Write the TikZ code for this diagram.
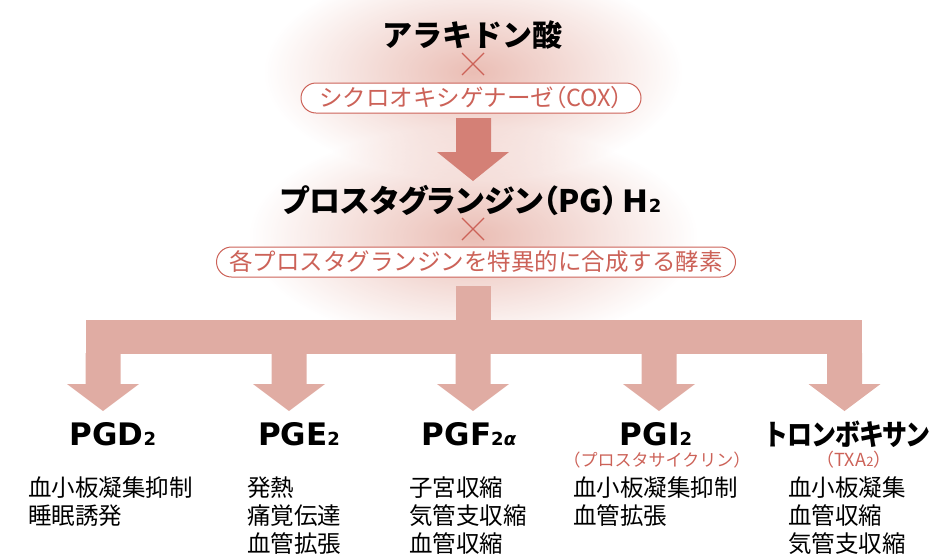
\documentclass[tikz,border=0pt]{standalone}
\usepackage{fontspec}
\setmainfont{Noto Sans CJK JP}
\newfontfamily\jpp{Noto Sans CJK JP}[RawFeature={+palt}]
\newfontfamily\latb{DejaVu Sans}
\usetikzlibrary{fadings,calc}
\definecolor{glowc}{RGB}{220,145,130}
\definecolor{boxred}{RGB}{204,98,88}
\definecolor{bigarrow}{RGB}{212,128,118}
\definecolor{brarrow}{RGB}{224,172,163}
\tikzfading[name=glowfade, inner color=transparent!40, outer color=transparent!100]
\tikzset{
  title/.style={font=\fontsize{30}{32}\selectfont\bfseries, inner sep=0pt},
  subtitle/.style={font=\latb\fontsize{31}{33}\selectfont\bfseries, inner sep=0pt},
  enzbox/.style={draw=boxred, line width=1pt, fill=white, rounded corners=15pt,
     text=boxred, font=\fontsize{23.5}{25}\selectfont, inner sep=0pt, minimum height=30pt},
  redsub/.style={text=boxred, font=\fontsize{17}{19}\selectfont, inner sep=0pt},
  desc/.style={font=\fontsize{23.5}{28}\selectfont, align=left, inner sep=0pt, anchor=north west},
  crossline/.style={draw=boxred, line width=1.3pt},
  glow/.style={fill=glowc, path fading=glowfade}
}
\newcommand{\subtwo}{{\fontsize{18}{18}\selectfont 2}}
\begin{document}
\begin{tikzpicture}[x=1pt, y=-1pt]
\useasboundingbox (0,0) rectangle (934,555);
% glows
\fill[glow] (473,72) ellipse (210 and 108);
\fill[glow] (473,236) ellipse (225 and 110);
% top title
\node[title] (aa) at (472,35) {アラキドン酸};
\coordinate (c1) at (473,64);
\draw[crossline] ($(c1)+(-11,-11)$) -- ($(c1)+(11,11)$) ($(c1)+(-11,11)$) -- ($(c1)+(11,-11)$);
\node[enzbox, minimum width=340pt] (cox) at (471,98) {シクロオキシゲナーゼ{\jpp （}COX{\jpp ）}};
% big arrow
\fill[bigarrow] (456,118) -- (491,118) -- (491,152) -- (509,152) -- (473,181) -- (437,152) -- (456,152) -- cycle;
\node[title, font=\jpp\fontsize{31}{33}\selectfont\bfseries] (pgh) at (471,200) {プロスタグランジン（PG）\hspace{5pt}{\latb H\subtwo}};
\coordinate (c2) at (473,229);
\draw[crossline] ($(c2)+(-11,-11)$) -- ($(c2)+(11,11)$) ($(c2)+(-11,11)$) -- ($(c2)+(11,-11)$);
\node[enzbox, minimum width=519pt] (enz) at (476,262) {各プロスタグランジンを特異的に合成する酵素};
% branching arrows
\fill[brarrow] (456,286) rectangle (491,322);
\fill[brarrow] (85.5,320) rectangle (862,354);
\foreach \cx in {103,289,473,659,844.5}{
  \fill[brarrow] (\cx-17.5,353) -- (\cx+17.5,353) -- (\cx+17.5,384) -- (\cx+36,384) -- (\cx,411) -- (\cx-36,384) -- (\cx-17.5,384) -- cycle;
}
% product titles
\node[subtitle] (d2) at (113,434) {PGD\subtwo};
\node[subtitle] (e2) at (299,434) {PGE\subtwo};
\node[subtitle] (f2) at (469,434) {PGF{\fontsize{18}{18}\selectfont 2\itshape α}};
\node[subtitle] (i2) at (656,434) {PGI\subtwo};
\node[title, font=\jpp\fontsize{29}{31}\selectfont\bfseries] (tx) at (848,434) {\scalebox{0.86}[1]{トロンボキサン}};
\node[redsub] (pgi) at (657,460) {（プロスタサイクリン）};
\node[redsub, font=\fontsize{18}{19}\selectfont] (txa) at (854,460) {（TXA{\fontsize{13}{13}\selectfont 2}）};
% descriptions
\node[desc] (dd) at (28,477) {血小板凝集抑制\\睡眠誘発};
\node[desc] (de) at (247,477) {発熱\\痛覚伝達\\血管拡張};
\node[desc] (df) at (409,477) {子宮収縮\\気管支収縮\\血管収縮};
\node[desc] (di) at (573,477) {血小板凝集抑制\\血管拡張};
\node[desc] (dt) at (788,477) {血小板凝集\\血管収縮\\気管支収縮};
\end{tikzpicture}
\end{document}
